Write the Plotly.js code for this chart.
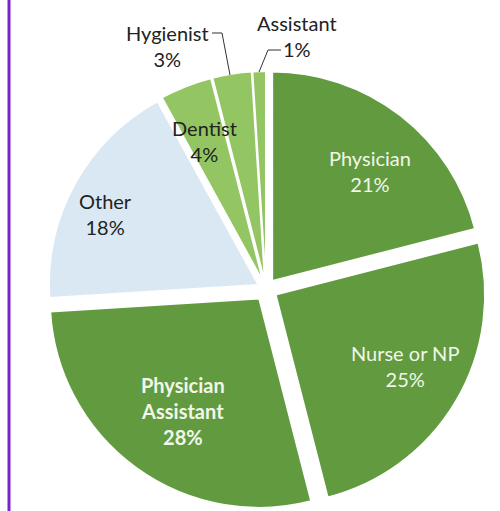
<!DOCTYPE html>
<html>
<head>
<meta charset="utf-8">
<script src="https://cdn.plot.ly/plotly-3.0.1.min.js"></script>
<style>html,body{margin:0;padding:0;background:#fff;}#chart{width:500px;height:511px;}</style>
</head>
<body>
<div id="chart"></div>
<script>
// Data
var categories = ["Physician", "Nurse or NP", "Physician<br>Assistant", "Other", "Dentist", "Hygienist", "Assistant"];
var shares = [21, 25, 28, 18, 4, 3, 1];
var sliceColors = ["#629b3f", "#629b3f", "#629b3f", "#dae8f4", "#93c562", "#93c562", "#93c562"];
var pulls = [0.05, 0.055, 0.057, 0.043, 0.042, 0.042, 0.042];

// label placement (paper fractions) and styles
var labelPos = [[0.74, 0.665], [0.81, 0.284], [0.366, 0.196], [0.21, 0.581], [0.408, 0.724], [0.334, 0.91], [0.594, 0.929]];

var font = "Lato, 'Open Sans', sans-serif";
var light = "#f1f7ea", dark = "#222222";
var labelColors = [light, light, light, dark, dark, dark, dark];

var trace = {
  type: "pie",
  values: shares,
  labels: categories,
  textinfo: "none",
  sort: false,
  direction: "clockwise",
  rotation: 0,
  pull: pulls,
  marker: {colors: sliceColors, line: {color: "#ffffff", width: 1.5}},
  domain: {x: [0.0902, 0.9738], y: [0.0022, 0.8667]},
  hoverinfo: "none"
};

var annotations = categories.map(function (c, i) {
  var t = c + "<br>" + shares[i] + "%";
  if (i === 2) t = "<b>" + t + "</b>";
  return {
    xref: "paper", yref: "paper", x: labelPos[i][0], y: labelPos[i][1],
    xanchor: "center", yanchor: "middle", showarrow: false, text: t,
    font: {family: font, size: 20, color: labelColors[i]}
  };
});

function px(x) { return x / 500; }
function py(y) { return 1 - y / 511; }
function pathOf(pts) {
  return pts.map(function (p, k) { return (k ? "L" : "M") + px(p[0]) + "," + py(p[1]); }).join(" ");
}

var layout = {
  width: 500,
  height: 511,
  margin: {l: 0, r: 0, t: 0, b: 0},
  paper_bgcolor: "#ffffff",
  showlegend: false,
  font: {family: font},
  shapes: [
    {type: "line", xref: "paper", yref: "paper", x0: 0.018, x1: 0.018, y0: 0, y1: 1,
     line: {color: "#7b22c8", width: 3}},
    {type: "path", xref: "paper", yref: "paper", path: pathOf([[212, 33], [222, 33], [230, 75]]),
     line: {color: "#333333", width: 1}},
    {type: "path", xref: "paper", yref: "paper", path: pathOf([[281, 50], [268, 50], [259, 72]]),
     line: {color: "#333333", width: 1}}
  ],
  annotations: annotations
};

Plotly.newPlot("chart", [trace], layout, {displayModeBar: false, staticPlot: true});
</script>
</body>
</html>
